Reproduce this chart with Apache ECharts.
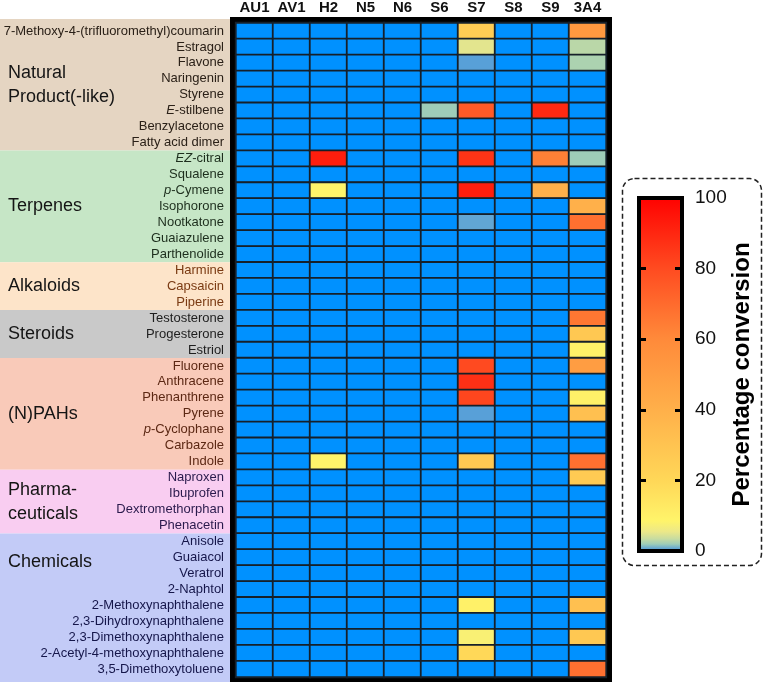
<!DOCTYPE html>
<html>
<head>
<meta charset="utf-8">
<title>Percentage conversion heatmap</title>
<script src="https://cdn.jsdelivr.net/npm/echarts@6/dist/echarts.min.js"></script>
<style>
  html, body { margin: 0; padding: 0; background: #fff; }
  #main { width: 763px; height: 682px; }
</style>
</head>
<body>
<div id="main"></div>
<script>
// enzymes (columns) and substrates (rows, top to bottom)
var enzymes = ['AU1', 'AV1', 'H2', 'N5', 'N6', 'S6', 'S7', 'S8', 'S9', '3A4'];
var compounds = [
  '7-Methoxy-4-(trifluoromethyl)coumarin', 'Estragol', 'Flavone', 'Naringenin', 'Styrene', 'E-stilbene', 'Benzylacetone', 'Fatty acid dimer',
  'EZ-citral', 'Squalene', 'p-Cymene', 'Isophorone', 'Nootkatone', 'Guaiazulene', 'Parthenolide',
  'Harmine', 'Capsaicin', 'Piperine',
  'Testosterone', 'Progesterone', 'Estriol',
  'Fluorene', 'Anthracene', 'Phenanthrene', 'Pyrene', 'p-Cyclophane', 'Carbazole', 'Indole',
  'Naproxen', 'Ibuprofen', 'Dextromethorphan', 'Phenacetin',
  'Anisole', 'Guaiacol', 'Veratrol', '2-Naphtol', '2-Methoxynaphthalene', '2,3-Dihydroxynaphthalene',
  '2,3-Dimethoxynaphthalene', '2-Acetyl-4-methoxynaphthalene', '3,5-Dimethoxytoluene'
];
var groupNames = ['Natural\nProduct(-like)', 'Terpenes', 'Alkaloids', 'Steroids', '(N)PAHs', 'Pharma-\nceuticals', 'Chemicals'];
var groupSizes = [8, 7, 3, 3, 7, 4, 9];

// % conversion, one value per compound (same order as compounds)
//          natural                     terpenes              alk     ster        PAHs                     pharma    chemicals
var AU1  = [0,0,0,0,0,0,0,0,            0,0,0,0,0,0,0,        0,0,0,  0,0,0,      0,0,0,0,0,0,0,           0,0,0,0,  0,0,0,0,0,0,0,0,0];
var AV1  = [0,0,0,0,0,0,0,0,            0,0,0,0,0,0,0,        0,0,0,  0,0,0,      0,0,0,0,0,0,0,           0,0,0,0,  0,0,0,0,0,0,0,0,0];
var H2   = [0,0,0,0,0,0,0,0,            92,0,9,0,0,0,0,       0,0,0,  0,0,0,      0,0,0,0,0,0,9,           0,0,0,0,  0,0,0,0,0,0,0,0,0];
var N5   = [0,0,0,0,0,0,0,0,            0,0,0,0,0,0,0,        0,0,0,  0,0,0,      0,0,0,0,0,0,0,           0,0,0,0,  0,0,0,0,0,0,0,0,0];
var N6   = [0,0,0,0,0,0,0,0,            0,0,0,0,0,0,0,        0,0,0,  0,0,0,      0,0,0,0,0,0,0,           0,0,0,0,  0,0,0,0,0,0,0,0,0];
var S6   = [0,0,0,0,0,2.5,0,0,          0,0,0,0,0,0,0,        0,0,0,  0,0,0,      0,0,0,0,0,0,0,           0,0,0,0,  0,0,0,0,0,0,0,0,0];
var S7   = [26,5.5,1,0,0,75,0,0,        86,0,92,0,1.2,0,0,    0,0,0,  0,0,0,      80,87,81,1,0,0,28,       0,0,0,0,  0,0,0,0,10,0,8,20,0];
var S8   = [0,0,0,0,0,0,0,0,            0,0,0,0,0,0,0,        0,0,0,  0,0,0,      0,0,0,0,0,0,0,           0,0,0,0,  0,0,0,0,0,0,0,0,0];
var S9   = [0,0,0,0,0,89,0,0,           63,0,40,0,0,0,0,      0,0,0,  0,0,0,      0,0,0,0,0,0,0,           0,0,0,0,  0,0,0,0,0,0,0,0,0];
var A3A4 = [52,3.5,3,0,0,0,0,0,         2.5,0,0,40,68,0,0,    0,0,0,  66,28,10,   50,0,10,32,0,0,68,       27,0,0,0,  0,0,0,0,32,0,28,0,68];
var columns = [AU1, AV1, H2, N5, N6, S6, S7, S8, S9, A3A4];

var colorbarTicks = [0, 20, 40, 60, 80, 100];

// look
var FONT = 'Arial, "Liberation Sans", sans-serif';
var zeroColor = '#0091ff';
var scaleStops = [
  [0, '#4a8cd0'], [0.01, '#58a0d8'], [0.025, '#9ecdb8'], [0.04, '#c8dca0'], [0.06, '#ece888'],
  [0.09, '#fff46a'], [0.2, '#ffd858'], [0.4, '#ffb04a'], [0.6, '#ff8a3a'], [0.8, '#ff4a20'], [1, '#ff0000']
];
var groupFill = ['#e5d5c2', '#c6e6c6', '#fde4c9', '#c9c9c9', '#f9cab9', '#f9cdf1', '#c3cbf7'];
var groupText = ['#2b2118', '#1d2e1d', '#7a3a12', '#1e1e1e', '#5c2814', '#2a1a4c', '#15164a'];

// the visualMap wants evenly spaced colours, so resample the stops
function scaleColor(t) {
  for (var i = 1; i < scaleStops.length; i++) {
    if (t <= scaleStops[i][0]) {
      var a = scaleStops[i - 1], b = scaleStops[i];
      return echarts.color.lerp((t - a[0]) / (b[0] - a[0]), [a[1], b[1]]);
    }
  }
  return scaleStops[scaleStops.length - 1][1];
}
var mapColors = [];
for (var k = 0; k <= 200; k++) mapColors.push(scaleColor(k / 200));

var cells = [];
columns.forEach(function (col, x) {
  col.forEach(function (v, y) { cells.push([x, y, v]); });
});

// group of each compound row
var rowGroup = [];
groupSizes.forEach(function (n, g) { for (var i = 0; i < n; i++) rowGroup.push(g); });

var option = {
  animation: false,
  textStyle: { fontFamily: FONT },
  grid: [
    { left: 236, top: 23, width: 370, height: 654, show: true, borderColor: '#000', borderWidth: 12, backgroundColor: 'transparent' },
    { left: 639, top: 198, width: 43, height: 353, show: true, borderColor: '#000', borderWidth: 4,
      backgroundColor: new echarts.graphic.LinearGradient(0, 1, 0, 0, scaleStops.map(function (s) { return { offset: s[0], color: s[1] }; })) }
  ],
  xAxis: [
    { type: 'category', gridIndex: 0, data: enzymes, position: 'top',
      axisLine: { show: false }, axisTick: { show: false }, splitLine: { show: false },
      axisLabel: { interval: 0, fontSize: 15, fontWeight: 'bold', color: '#111', margin: 8 } },
    { type: 'category', gridIndex: 1, data: [''], show: false }
  ],
  yAxis: [
    { type: 'category', gridIndex: 0, data: compounds, inverse: true,
      axisLine: { show: false }, axisTick: { show: false }, splitLine: { show: false },
      axisLabel: {
        interval: 0, fontSize: 13, margin: 12,
        color: function (v) { return groupText[rowGroup[compounds.indexOf(v)]]; },
        formatter: function (v) {
          var m = v.match(/^(EZ|E|p)-(.*)$/);
          return m ? '{i|' + m[1] + '}-' + m[2] : v;
        },
        rich: { i: { fontStyle: 'italic', fontSize: 13 } }
      } },
    { type: 'value', gridIndex: 1, min: 0, max: 100, interval: 20, position: 'left',
      axisLine: { show: false }, splitLine: { show: false }, axisLabel: { show: false },
      axisTick: { show: true, inside: true, length: 7, lineStyle: { color: '#000', width: 3 } } },
    { type: 'value', gridIndex: 1, min: 0, max: 100, interval: 20, position: 'right',
      axisLine: { show: false }, splitLine: { show: false },
      axisTick: { show: true, inside: true, length: 7, lineStyle: { color: '#000', width: 3 } },
      axisLabel: { fontSize: 19, color: '#111', margin: 13,
        formatter: function (v) { return colorbarTicks.indexOf(v) >= 0 ? String(v) : ''; } },
      name: 'Percentage conversion', nameLocation: 'middle', nameRotate: 90, nameGap: 45,
      nameTextStyle: { fontSize: 24, fontWeight: 'bold', color: '#000' } }
  ],
  visualMap: {
    type: 'continuous', show: false, seriesIndex: 0, dimension: 2,
    min: 0, max: 100, range: [0.5, 100],
    inRange: { color: mapColors },
    outOfRange: { color: zeroColor }
  },
  series: [{
    type: 'heatmap', xAxisIndex: 0, yAxisIndex: 0, data: cells,
    itemStyle: { borderColor: '#16202a', borderWidth: 1.8 },
    emphasis: { disabled: true }
  }]
};

var chart = echarts.init(document.getElementById('main'));
chart.setOption(option);

// coloured group bands and group titles left of the row labels
var y0 = chart.convertToPixel({ yAxisIndex: 0 }, 0);
var rowH = chart.convertToPixel({ yAxisIndex: 0 }, 1) - y0;
var elements = [];
var start = 0;
groupSizes.forEach(function (n, g) {
  var top = y0 + (start - 0.5) * rowH;
  var bottom = y0 + (start + n - 0.5) * rowH;
  if (g === 0) top -= 4;
  if (g === groupSizes.length - 1) bottom = 682;
  elements.push({ type: 'rect', z: -10, shape: { x: 0, y: top, width: 230, height: bottom - top }, style: { fill: groupFill[g] } });
  // Chemicals title sits near the top of its band, the others are centred
  var ty = g === groupSizes.length - 1 ? y0 + (start + 1.3) * rowH : (top + bottom) / 2;
  elements.push({ type: 'text', z: 5, x: 8, y: ty,
    style: { text: groupNames[g], font: '18px ' + FONT, fill: '#151515', lineHeight: 24, verticalAlign: 'middle', align: 'left' } });
  start += n;
});
// dashed frame round the colour bar
elements.push({ type: 'rect', z: 5, shape: { x: 622.5, y: 178.5, width: 139, height: 387, r: 12 },
  style: { fill: 'none', stroke: '#222', lineWidth: 1.5, lineDash: [5, 3] } });
chart.setOption({ graphic: elements });
</script>
</body>
</html>
